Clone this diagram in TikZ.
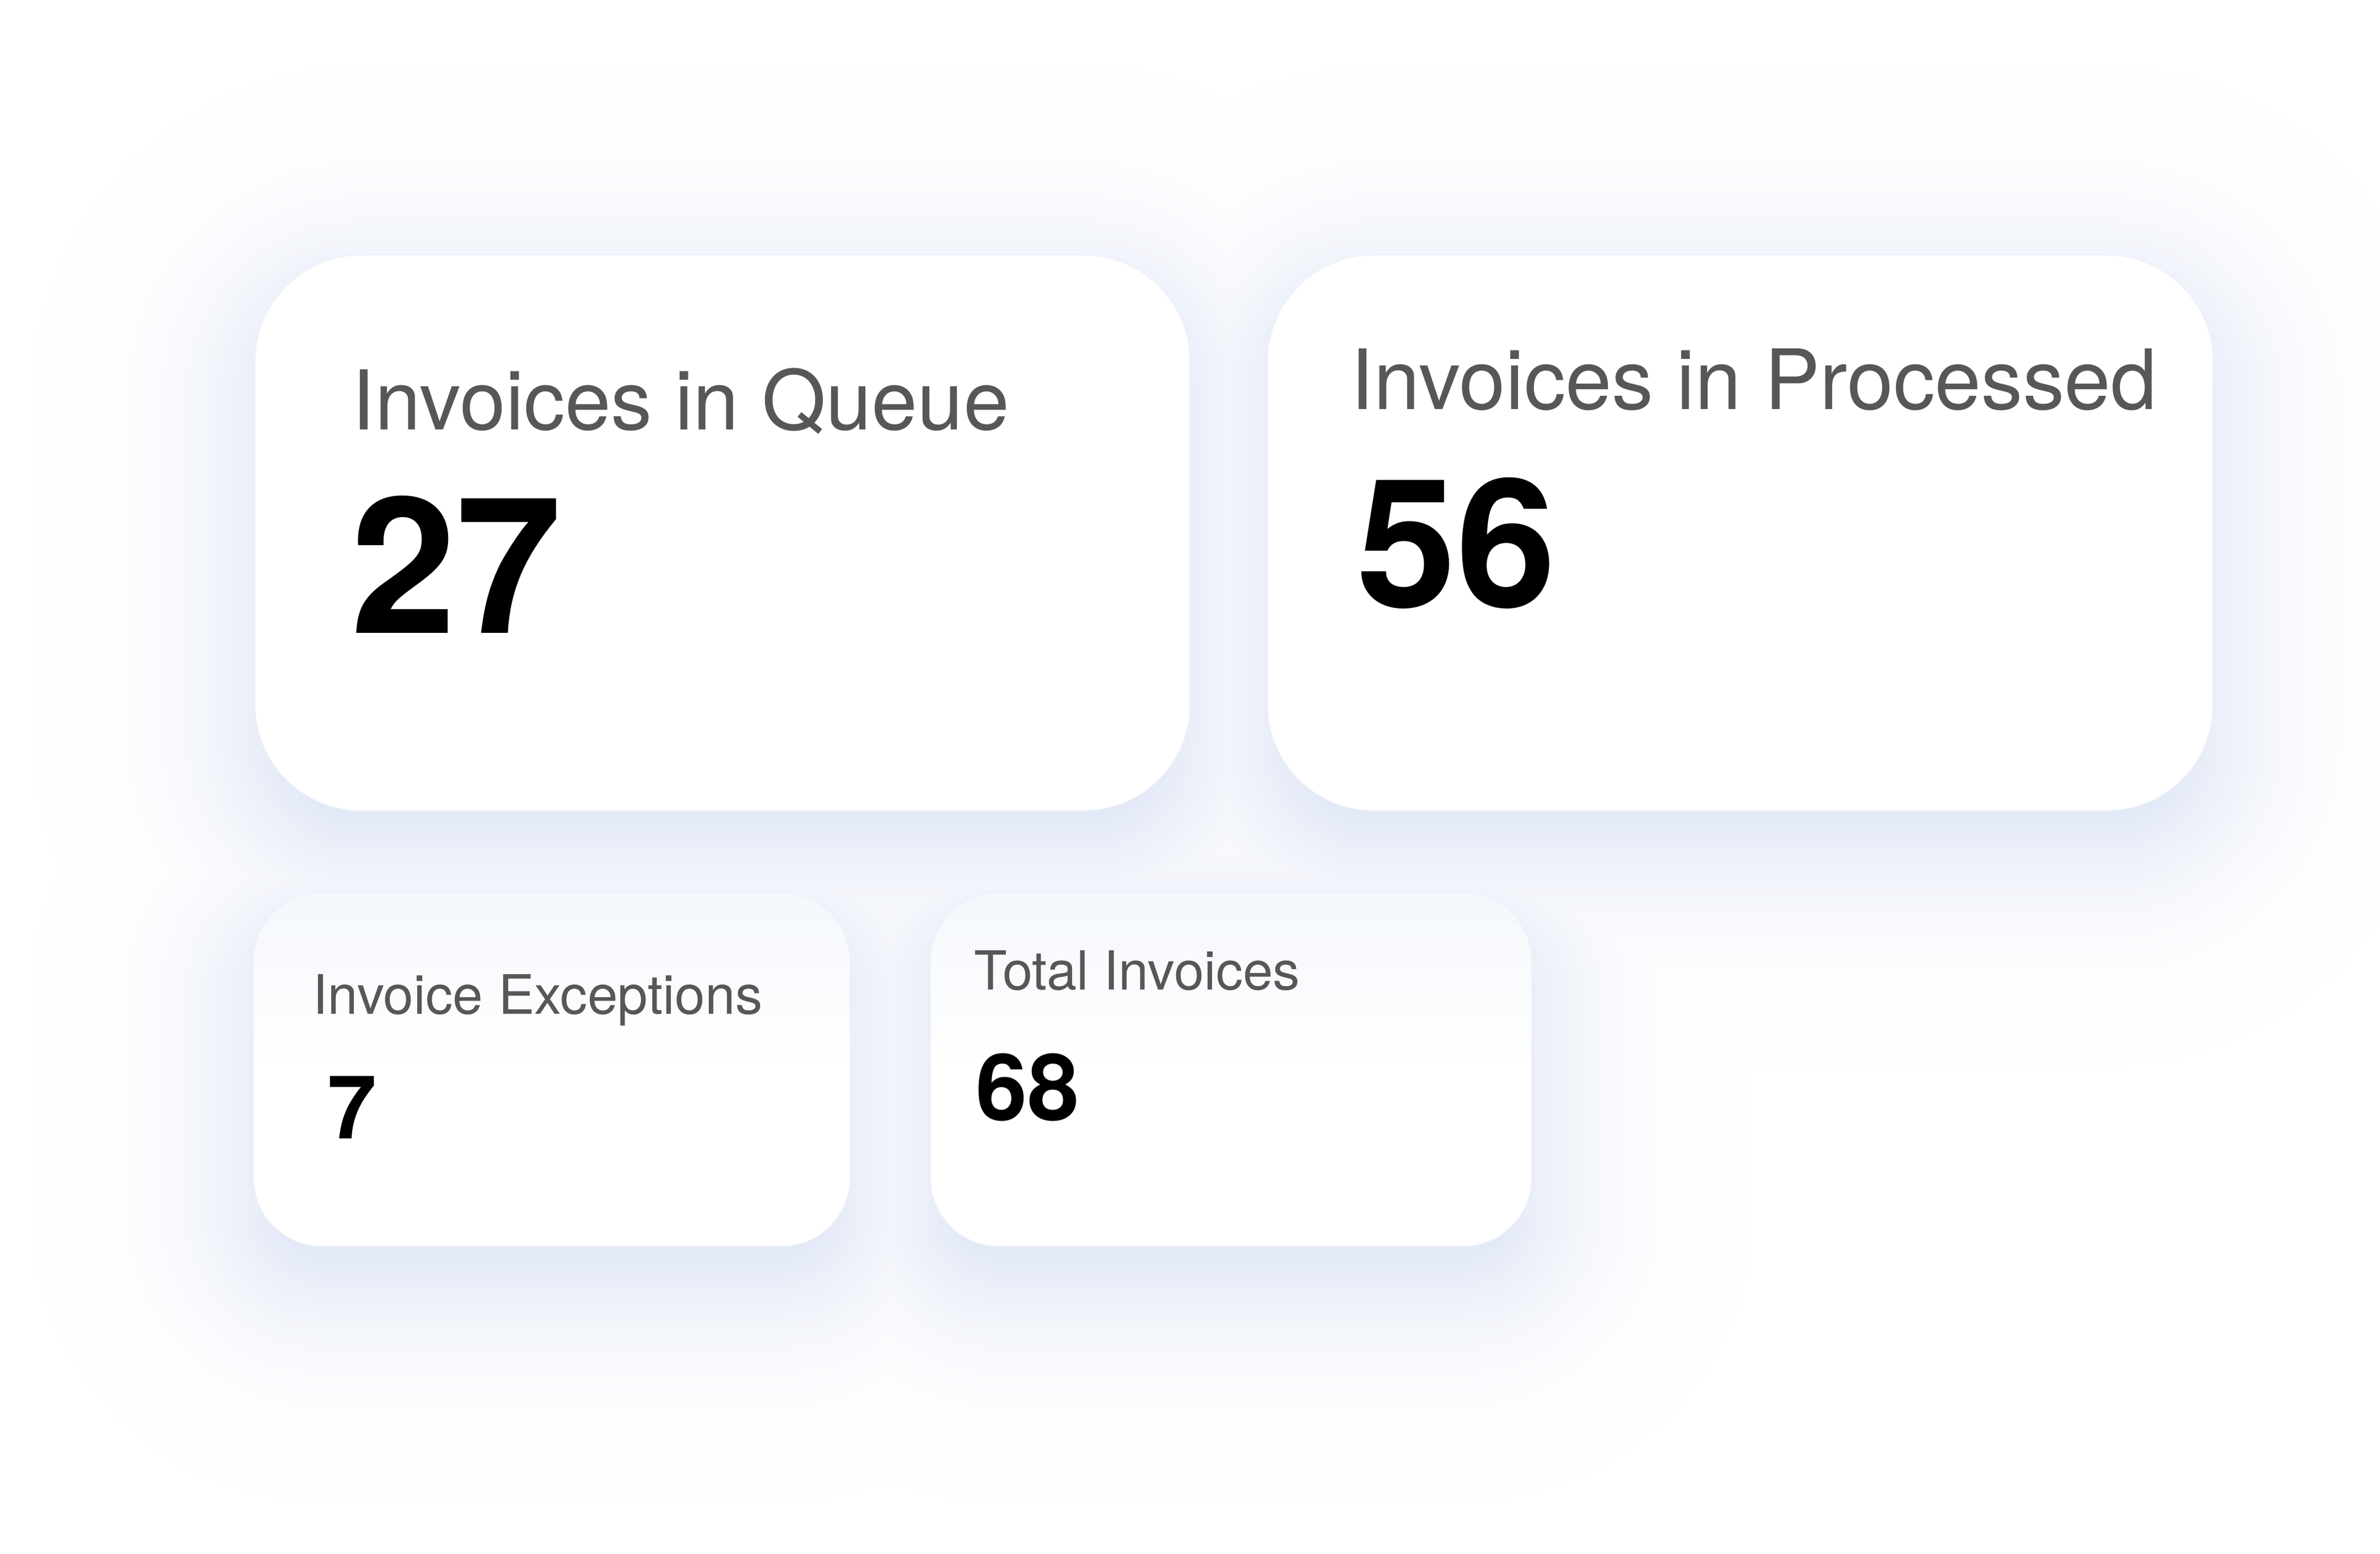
\documentclass[tikz,border=0pt]{standalone}
\usepackage{fontspec}
\setmainfont{TeX Gyre Heros}
\definecolor{glowm}{RGB}{210,220,242}
\definecolor{titlec}{RGB}{87,87,87}
\definecolor{edgec}{RGB}{238,242,248}
\definecolor{cardtop}{RGB}{244,247,252}
\tikzset{
  card/.style={draw=edgec, line width=0.6pt, fill=white, inner sep=0pt, outer sep=0pt},
  bigcard/.style={card, rounded corners=70pt},
  smallcard/.style={card, rounded corners=45pt, top color=cardtop, bottom color=white, middle color=white},
  title/.style={anchor=base west, inner sep=0pt, outer sep=0pt, text=titlec},
  number/.style={anchor=base west, inner sep=0pt, outer sep=0pt, text=black, font=\bfseries}
}
\begin{document}
\begin{tikzpicture}[x=1pt,y=-1pt]
\useasboundingbox (0,0) rectangle (1568,1023.3);
\fill[white] (0,0) rectangle (1568,1023.3);
% soft bluish glow behind the cards (opaque layers, outermost first)
\def\off{22}
\foreach \s in {176,173,...,-46}{
  \pgfmathsetmacro\g{100/(1+exp(\s/33))}
  \colorlet{layc}{glowm!\g!white}
  \pgfmathsetmacro\ra{max(70+\s,2)}
  \pgfmathsetmacro\rb{max(45+\s,2)}
  \fill[layc]
    [rounded corners=\ra pt] (168-\s,168-\s+\off) rectangle (784+\s,534+\s+\off)
    (835-\s,168-\s+\off) rectangle (1458+\s,534+\s+\off)
    [rounded corners=\rb pt] (167-\s,588-\s+\off) rectangle (560+\s,821+\s+\off)
    (613-\s,588-\s+\off) rectangle (1009+\s,821+\s+\off);
}
% cards
\node[bigcard, minimum width=616pt, minimum height=366pt] (queue) at (476,351) {};
\node[bigcard, minimum width=623pt, minimum height=366pt] (proc) at (1146.5,351) {};
\node[smallcard, minimum width=393pt, minimum height=233pt] (exc) at (363.5,704.5) {};
\node[smallcard, minimum width=396pt, minimum height=233pt] (tot) at (811,704.5) {};
% texts
\node[title, font=\fontsize{54.3}{60}\selectfont] (queuet) at (232,283) {Invoices in Queue};
\node[number, font=\fontsize{125}{130}\bfseries\selectfont] (queuen) at (231,417) {27};
\node[title, font=\fontsize{54.8}{60}\selectfont] (proct) at (890,269.5) {Invoices in Processed};
\node[number, font=\fontsize{118}{124}\bfseries\selectfont] (procn) at (894,400) {56};
\node[title, font=\fontsize{35.8}{40}\selectfont] (exct) at (206,668) {Invoice Exceptions};
\node[number, font=\fontsize{58}{62}\bfseries\selectfont] (excn) at (216,750) {7};
\node[title, font=\fontsize{35.5}{40}\selectfont] (tott) at (642,652) {Total Invoices};
\node[number, font=\fontsize{61}{66}\bfseries\selectfont] (totn) at (643,738) {68};
\end{tikzpicture}
\end{document}
